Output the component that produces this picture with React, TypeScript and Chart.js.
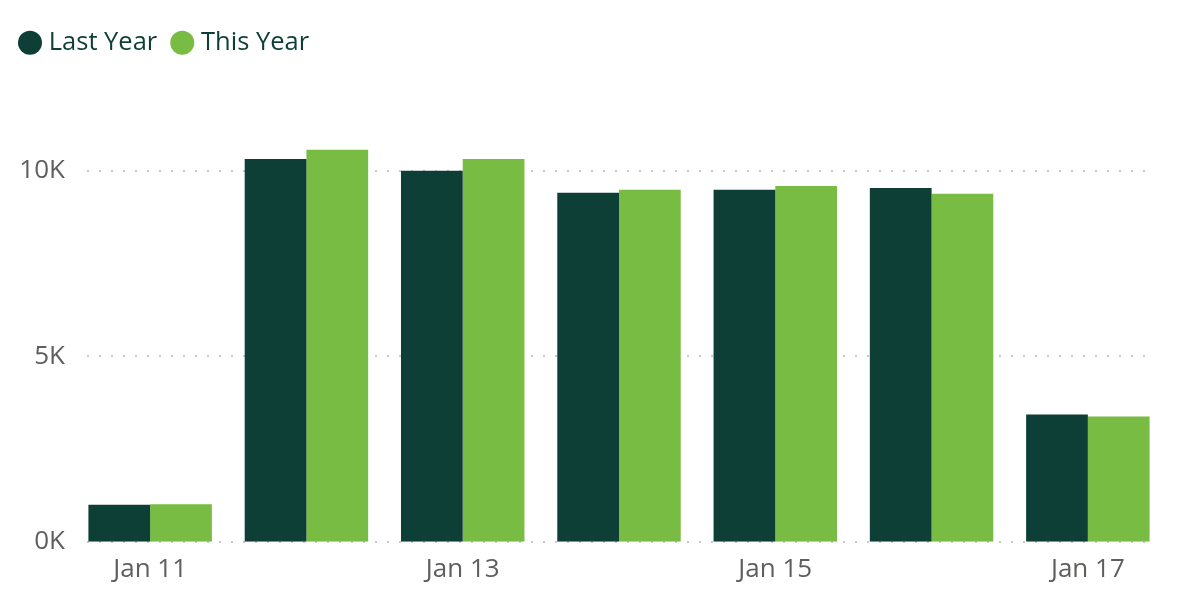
import React, { useEffect, useRef } from "react";
import { Chart, registerables } from "chart.js";

Chart.register(...registerables);

const categories = ["Jan 11", "Jan 12", "Jan 13", "Jan 14", "Jan 15", "Jan 16", "Jan 17"];
const lastYear = [1000, 10320, 10000, 9410, 9490, 9540, 3430];
const thisYear = [1010, 10570, 10320, 9490, 9590, 9380, 3380];
const yTicks = [0, 5000, 10000];

const DARK = "#0E3F36";
const LIGHT = "#79BC43";
const TICK = "#605E5C";
const GRID = "#C8C8C8";
const FONT = "'Open Sans', 'Noto Sans', sans-serif";

// dotted horizontal gridlines inset from the plot edges, drawn behind the bars
const dottedGrid = {
  id: "dottedGrid",
  beforeDatasetsDraw(chart: any) {
    const { ctx, chartArea, scales } = chart;
    const y = scales.y;
    ctx.save();
    ctx.strokeStyle = GRID;
    ctx.lineWidth = 2;
    ctx.setLineDash([2, 10]);
    y.ticks.forEach((t: any) => {
      const py = Math.round(y.getPixelForValue(t.value));
      ctx.beginPath();
      ctx.moveTo(chartArea.left + 15, py);
      ctx.lineTo(chartArea.right - 18, py);
      ctx.stroke();
    });
    ctx.restore();
  },
};

export default function App() {
  const ref = useRef<HTMLCanvasElement | null>(null);

  useEffect(() => {
    document.body.style.margin = "0";
    if (!ref.current) return;
    const chart = new Chart(ref.current, {
      type: "bar",
      data: {
        labels: categories,
        datasets: [
          {
            label: "Last Year",
            data: lastYear,
            backgroundColor: DARK,
            borderWidth: 0,
            categoryPercentage: 0.79,
            barPercentage: 1.0,
          },
          {
            label: "This Year",
            data: thisYear,
            backgroundColor: LIGHT,
            borderWidth: 0,
            categoryPercentage: 0.79,
            barPercentage: 1.0,
          },
        ],
      },
      plugins: [dottedGrid],
      options: {
        animation: false,
        responsive: false,
        maintainAspectRatio: false,
        layout: { padding: { top: 11, left: 5, right: 11, bottom: 8 } },
        plugins: {
          legend: {
            display: true,
            position: "top",
            align: "start",
            labels: {
              usePointStyle: true,
              pointStyle: "circle",
              boxHeight: 17,
              boxWidth: 12,
              padding: 19,
              color: DARK,
              font: { family: FONT, size: 25.5 },
            },
          },
          tooltip: { enabled: false },
        },
        scales: {
          x: {
            offset: true,
            grid: { display: false, drawTicks: false },
            border: { display: false },
            ticks: {
              autoSkip: false,
              maxRotation: 0,
              padding: 12,
              color: TICK,
              font: { family: FONT, size: 26 },
              callback: (_v: any, i: number) => (i % 2 === 0 ? categories[i] : ""),
            },
          },
          y: {
            min: 0,
            max: 12840,
            afterBuildTicks: (axis: any) => {
              axis.ticks = yTicks.map((v) => ({ value: v }));
            },
            afterFit: (axis: any) => {
              axis.width = 67;
            },
            grid: { display: false, drawTicks: false },
            border: { display: false },
            ticks: {
              padding: 7,
              color: TICK,
              font: { family: FONT, size: 26 },
              callback: (v: any) => `${Math.round(Number(v) / 1000)}K`,
            },
          },
        },
      },
    });
    return () => chart.destroy();
  }, []);

  return <canvas ref={ref} width={1177} height={605} style={{ display: "block" }} />;
}
